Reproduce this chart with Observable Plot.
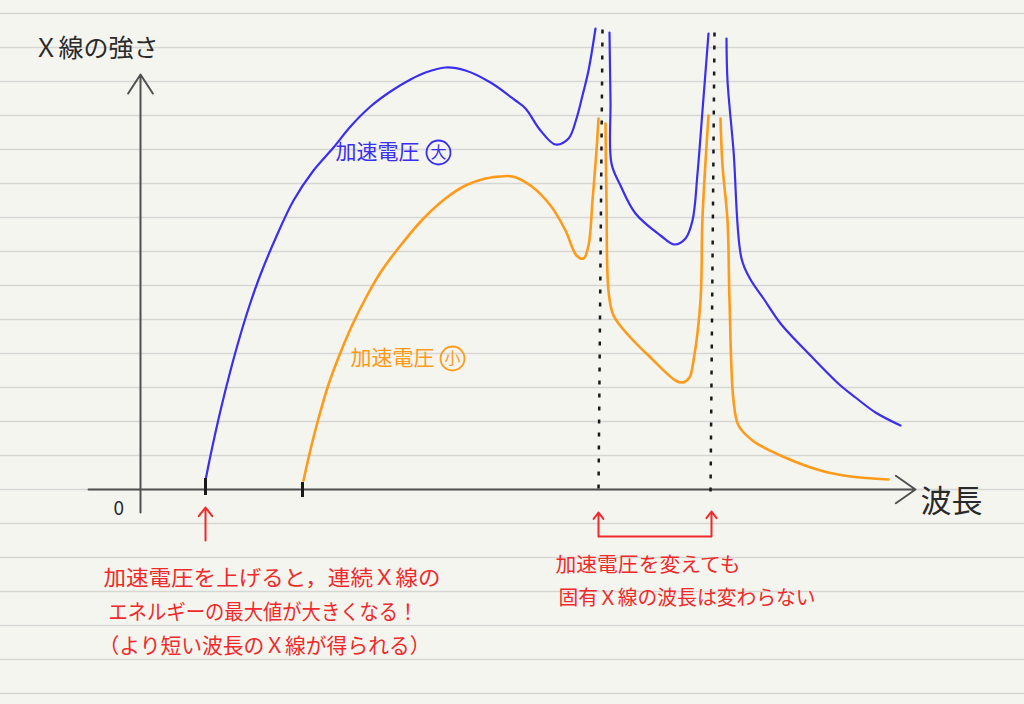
<!DOCTYPE html>
<html>
<head>
<meta charset="utf-8">
<script src="https://cdn.jsdelivr.net/npm/d3@7"></script>
<script src="https://cdn.jsdelivr.net/npm/@observablehq/plot@0.6"></script>
<style>
  html, body { margin: 0; padding: 0; background: #f5f5f0; }
  #chart svg { display: block; }
</style>
</head>
<body>
<div id="chart"></div>
<script>
// Wavelength (x, arbitrary units) and X-ray intensity (y, arbitrary units)
// High accelerating voltage: continuous spectrum + characteristic peaks (3 segments)
const highSeg1 = [[65,9],[70,34],[80,79],[90,119],[100,155],[110,187],[120,215],[135,251],[153,289],[173,319],[193,342],[210,363],[230,383],[250,398],[270,410],[285,417],[305,422],[325,419],[350,407],[375,389],[385,381],[400,359],[415,345],[428,351],[436,371],[442,394],[448,419],[455,461]];
const highSeg2 = [[469,457],[470,389],[471,326],[480,304],[495,276],[520,254],[534,245],[545,251],[552,269],[557,316],[562,379],[568,456]];
const highSeg3 = [[586,451],[587,409],[593,339],[601,231],[610,210],[623,191],[640,166],[670,134],[700,104],[715,92],[735,77],[760,64]];
// Low accelerating voltage
const lowSeg1 = [[163,9],[170,40],[178,71],[188,105],[200,137],[212,165],[225,191],[240,217],[260,244],[283,271],[305,291],[325,304],[345,311],[360,313],[372,313],[390,304],[410,284],[425,259],[436,234],[443,231],[448,244],[452,289],[456,339],[458,371]];
const lowSeg2 = [[465,366],[466,289],[468,199],[473,174],[490,152],[510,132],[535,109],[542,107],[549,112],[553,129],[560,189],[562,272],[568,374]];
const lowSeg3 = [[580,371],[582,324],[587,269],[589,189],[593,89],[598,64],[612,49],[640,34],[680,19],[710,13],[748,10]];
// Characteristic X-ray wavelengths (dotted guides)
const charLines = [{x1:462,y1:460,x2:458,y2:-3},{x1:574,y1:457,x2:570,y2:-6}];
// Short-wavelength limits (tick marks)
const limitTicks = [{x:65,y1:11,y2:-6},{x:162,y1:7,y2:-8}];
// Texts
const axisLabels = [
  {x:-107, y:441, text:"Ｘ線の強さ", size:25},
  {x:780, y:-13, text:"波長", size:31},
  {x:-27, y:-19, text:"0", size:19}
];
const seriesLabels = [
  {x:195, y:337, text:"加速電圧", mark:"大", cx:298, color:"#3a2ef0"},
  {x:210, y:131, text:"加速電圧", mark:"小", cx:312, color:"#ff9a1a"}
];
const noteLeft = [
  {x:-37, y:-89, text:"加速電圧を上げると，連続Ｘ線の", w:337},
  {x:-32, y:-123, text:"エネルギーの最大値が大きくなる！", w:309},
  {x:-42, y:-157, text:"（より短い波長のＸ線が得られる）", w:332}
];
const noteRight = [
  {x:415, y:-76, text:"加速電圧を変えても", w:185},
  {x:418, y:-109, text:"固有Ｘ線の波長は変わらない", w:257}
];
const ruleLevels = d3.range(-204, 477, 34);

const toRows = (seg, id) => seg.map(([x, y]) => ({x, y, id}));
const highRows = [...toRows(highSeg1,"a"), ...toRows(highSeg2,"b"), ...toRows(highSeg3,"c")];
const lowRows = [...toRows(lowSeg1,"a"), ...toRows(lowSeg2,"b"), ...toRows(lowSeg3,"c")];

const BLUE = "#3a2ef0", ORANGE = "#ff9a1a", RED = "#f02a2a", INK = "#2a2a2a";
const FONT = "'Noto Sans CJK JP', 'Noto Sans', sans-serif";

const chart = Plot.plot({
  width: 1024,
  height: 704,
  margin: 0,
  x: {domain: [-140, 884], axis: null},
  y: {domain: [-215, 489], axis: null},
  style: {background: "#f5f5f0", fontFamily: FONT},
  marks: [
    Plot.ruleY(ruleLevels, {stroke: "#d6d6d2", strokeWidth: 1.5}),
    // axes
    Plot.arrow([{x1:-52,y1:0,x2:775,y2:0}], {x1:"x1",y1:"y1",x2:"x2",y2:"y2", bend:0, stroke:"#505050", strokeWidth:2, headLength:18, headAngle:70}),
    Plot.arrow([{x1:0,y1:-23,x2:0,y2:415}], {x1:"x1",y1:"y1",x2:"x2",y2:"y2", bend:0, stroke:"#505050", strokeWidth:2, headLength:17, headAngle:66}),
    // curves
    Plot.line(highRows, {x:"x", y:"y", z:"id", stroke:BLUE, strokeWidth:2.2, curve:"catmull-rom"}),
    Plot.line(lowRows, {x:"x", y:"y", z:"id", stroke:ORANGE, strokeWidth:2.6, curve:"catmull-rom"}),
    // characteristic guides
    Plot.link(charLines, {x1:"x1",y1:"y1",x2:"x2",y2:"y2", stroke:"#1a1a1a", strokeWidth:2.5, strokeDasharray:"4,9"}),
    // limit ticks
    Plot.ruleX(limitTicks, {x:"x", y1:"y1", y2:"y2", stroke:"#1a1a1a", strokeWidth:3}),
    // red annotations
    Plot.arrow([{x1:65,y1:-51,x2:65,y2:-18},{x1:458,y1:-47,x2:458,y2:-23},{x1:571,y1:-47,x2:571,y2:-22}],
      {x1:"x1",y1:"y1",x2:"x2",y2:"y2", bend:0, stroke:RED, strokeWidth:2, headLength:14, headAngle:75}),
    Plot.link([{x1:458,y1:-47,x2:571,y2:-47}], {x1:"x1",y1:"y1",x2:"x2",y2:"y2", stroke:RED, strokeWidth:2}),
    // texts
    Plot.text(axisLabels, {x:"x", y:"y", text:"text", fontSize:"size", textAnchor:"start", fill:INK}),
    Plot.text(seriesLabels, {x:"x", y:"y", text:"text", fill:"color", fontSize:21, textAnchor:"start"}),
    Plot.dot(seriesLabels, {x:"cx", y:"y", r:12, stroke:"color", strokeWidth:1.8, fill:"none"}),
    Plot.text(seriesLabels, {x:"cx", y:"y", text:"mark", fill:"color", fontSize:16}),
    Plot.text(noteLeft, {x:"x", y:"y", text:"text", fill:RED, fontSize:21, textAnchor:"start", className:"note"}),
    Plot.text(noteRight, {x:"x", y:"y", text:"text", fill:RED, fontSize:20, textAnchor:"start", className:"note"})
  ]
});
document.getElementById("chart").append(chart);

// Stretch note lines to the widths written in the original
const notes = [...noteLeft, ...noteRight];
d3.select(chart).selectAll("g.note text").each(function(d, i) {
  const row = notes[i];
  if (row) d3.select(this).attr("textLength", row.w).attr("lengthAdjust", "spacingAndGlyphs");
});
</script>
</body>
</html>
